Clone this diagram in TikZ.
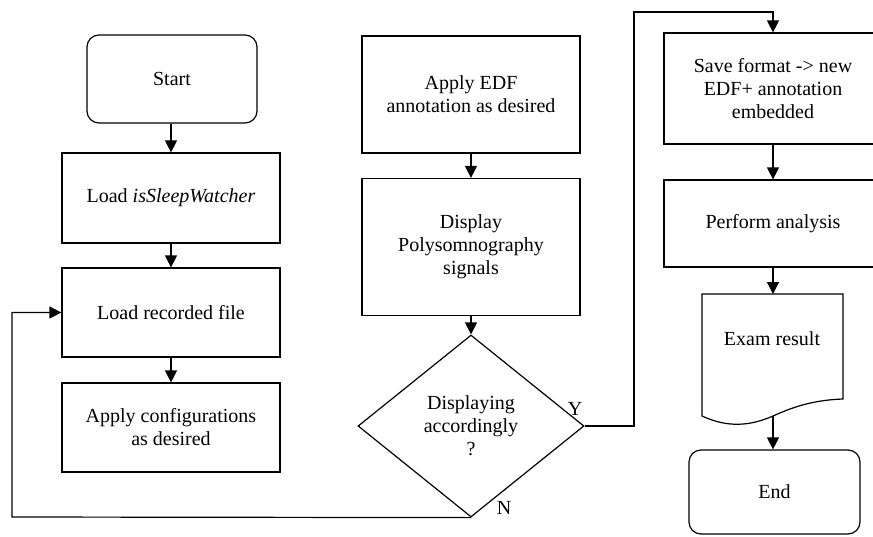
\documentclass[tikz,border=0pt]{standalone}
\usepackage{fontspec}
\setmainfont{Liberation Serif}
\usepackage{tikz}
\usetikzlibrary{shapes.geometric,arrows.meta}
\tikzset{
  flow/.style={line width=1.2pt, -{Triangle[length=12pt,width=12pt]}},
  box/.style={draw, line width=1.2pt, align=center, inner sep=2pt,
    font=\fontsize{20}{23}\selectfont},
  terminal/.style={box, rounded corners=12pt},
  label/.style={font=\fontsize{20}{23}\selectfont, inner sep=0pt}
}
\newcommand{\stepbox}[5]{
  \node [box, minimum width=#4, minimum height=#5] (#1) at (#2) {#3};
}
\newcommand{\termbox}[5]{
  \node [terminal, minimum width=#4, minimum height=#5] (#1) at (#2) {#3};
}

\begin{document}
\begin{tikzpicture}[x=1pt, y=-1pt]
  \useasboundingbox (0,0) rectangle (873,536);
  % left column
  \termbox{start}{172,79}{Start}{170pt}{88pt}
  \stepbox{load}{171,198}{Load \textit{isSleepWatcher}}{218pt}{90pt}
  \stepbox{rec}{171,312.5}{Load recorded file}{218pt}{89pt}
  \stepbox{conf}{171,427.5}{Apply configurations\\as desired}{218pt}{89pt}
  % middle column
  \stepbox{edf}{471,94.5}{Apply EDF\\annotation as desired}{218pt}{117pt}
  \stepbox{disp}{471,247}{Display\\Polysomnography\\signals}{218pt}{137pt}
  \node [box, shape=diamond, inner sep=0pt, minimum width=226pt,
    minimum height=182pt] (dec) at (471,426) {Displaying\\accordingly\\?};
  % right column
  \stepbox{save}{773,88.5}{Save format -> new\\EDF+ annotation\\embedded}{218pt}{111pt}
  \stepbox{perf}{773,223.5}{Perform analysis}{218pt}{87pt}
  \node [label] (exam) at (772,339) {Exam result};
  \draw [line width=1.2pt] (702,294) -- (843,294) -- (843,399)
    .. controls (815,400) and (795,406) .. (773,416) coordinate (examb)
    .. controls (750,426) and (728,428) .. (702,416) -- cycle;
  \coordinate (examt) at (773,294);
  \termbox{end}{774.5,492}{End}{171pt}{84pt}
  % connectors
  \draw [flow] (start.south -| load) -- (load);
  \draw [flow] (load) -- (rec);
  \draw [flow] (rec) -- (conf);
  \draw [flow] (edf) -- (disp);
  \draw [flow] (disp) -- (dec);
  \draw [flow] (save) -- (perf);
  \draw [flow] (perf.south -| examt) -- (examt);
  \draw [flow] (examb) -- (end.north -| examb);
  \coordinate (yturn) at (634,12);
  \coordinate (nturn) at (12,517);
  \draw [flow] (dec.east) -| (yturn) -| (save.north);
  \draw [flow] (dec.south) -- (nturn) |- (rec.west);
  \node [label] (yes) at (575,409) {Y};
  \node [label] (no) at (504,508) {N};
\end{tikzpicture}
\end{document}
